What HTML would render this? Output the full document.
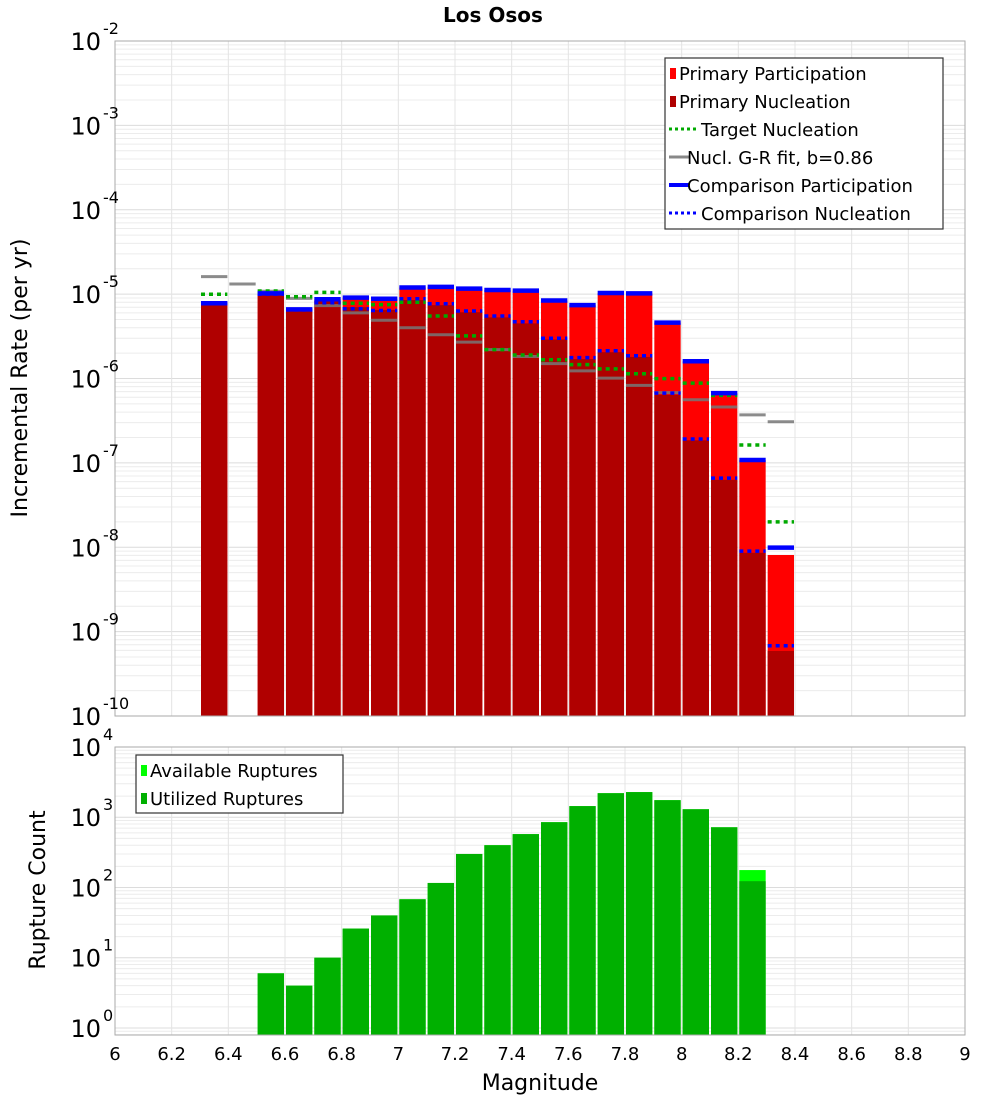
<!DOCTYPE html>
<html><head><meta charset="utf-8"><style>
html,body{margin:0;padding:0;background:#fff;}
svg{display:block;font-family:"DejaVu Sans","Liberation Sans",sans-serif;}
</style></head><body>
<svg id="chart" width="1000" height="1100" viewBox="0 0 1000 1100">
<text x="493" y="22" text-anchor="middle" font-size="20" font-weight="bold">Los Osos</text>
<g id="topPlot"></g>
<g id="botPlot"></g>
<text transform="translate(27,378) rotate(-90)" text-anchor="middle" font-size="22">Incremental Rate (per yr)</text>
<text transform="translate(45,890) rotate(-90)" text-anchor="middle" font-size="22">Rupture Count</text>
<text x="540" y="1090" text-anchor="middle" font-size="22">Magnitude</text>
</svg>
<script>
const binCenters=[6.35,6.45,6.55,6.65,6.75,6.85,6.95,7.05,7.15,7.25,7.35,7.45,7.55,7.65,7.75,7.85,7.95,8.05,8.15,8.25,8.35];
const primaryParticipation=[7.8e-6,null,1.02e-5,6.6e-6,8.7e-6,9.1e-6,8.8e-6,1.2e-5,1.22e-5,1.16e-5,1.12e-5,1.10e-5,8.4e-6,7.4e-6,1.03e-5,1.02e-5,4.6e-6,1.6e-6,6.7e-7,1.08e-7,8.1e-9];
const primaryNucleation=[7.8e-6,null,1.02e-5,6.6e-6,8.2e-6,7.0e-6,6.5e-6,8.5e-6,7.4e-6,6.1e-6,5.3e-6,4.5e-6,2.9e-6,1.7e-6,2.05e-6,1.8e-6,6.4e-7,1.85e-7,6.3e-8,8.6e-9,5.9e-10];
const targetNucleation=[9.95e-6,null,1.09e-5,9.3e-6,1.05e-5,7.8e-6,7.5e-6,8.0e-6,5.5e-6,3.2e-6,2.2e-6,1.9e-6,1.67e-6,1.46e-6,1.30e-6,1.14e-6,9.95e-7,8.8e-7,6.3e-7,1.63e-7,2.0e-8];
const grFit=[1.61e-5,1.32e-5,1.08e-5,8.9e-6,7.3e-6,6.0e-6,4.9e-6,4.0e-6,3.3e-6,2.7e-6,2.2e-6,1.82e-6,1.50e-6,1.23e-6,1.01e-6,8.3e-7,6.8e-7,5.6e-7,4.6e-7,3.7e-7,3.07e-7];
const compParticipation=[7.8e-6,null,1.02e-5,6.6e-6,8.7e-6,9.1e-6,8.8e-6,1.2e-5,1.22e-5,1.16e-5,1.12e-5,1.10e-5,8.4e-6,7.4e-6,1.03e-5,1.02e-5,4.6e-6,1.6e-6,6.7e-7,1.08e-7,9.9e-9];
const compNucleation=[7.8e-6,null,1.0e-5,6.5e-6,7.9e-6,6.7e-6,6.4e-6,8.8e-6,7.7e-6,6.3e-6,5.5e-6,4.7e-6,3.0e-6,1.77e-6,2.13e-6,1.86e-6,6.7e-7,1.92e-7,6.6e-8,9.0e-9,6.8e-10];
const countBins=[6.55,6.65,6.75,6.85,6.95,7.05,7.15,7.25,7.35,7.45,7.55,7.65,7.75,7.85,7.95,8.05,8.15,8.25];
const availableRuptures=[6,4,10,26,40,68,116,300,400,575,850,1440,2200,2280,1750,1300,720,177];
const utilizedRuptures=[6,4,10,26,40,68,116,300,400,575,850,1440,2200,2280,1750,1300,720,123];
const xTicks=[6,6.2,6.4,6.6,6.8,7,7.2,7.4,7.6,7.8,8,8.2,8.4,8.6,8.8,9];
const topExps=[-2,-3,-4,-5,-6,-7,-8,-9,-10];
const botExps=[4,3,2,1,0];

const NS="http://www.w3.org/2000/svg";
const L=115,R=965;
const X=m=>L+(m-6)/3*(R-L);
const TT=41,TB=716, BT=747,BB=1035;
const Yt=v=>TT+(-2-Math.log10(v))*(TB-TT)/8;
const Yb=v=>BT+(4-Math.log10(v))*(BB-BT)/4.1;
function mk(p,tag,a){const e=document.createElementNS(NS,tag);for(const k in a)e.setAttribute(k,a[k]);p.appendChild(e);return e;}
const topG=document.getElementById('topPlot'),botG=document.getElementById('botPlot');

function grid(g,y0,y1,yfun,emin,emax,name){
  const gg=mk(g,'g',{});
  
  
  for(let e=emin;e<emax;e++)for(let k=1;k<10;k++){const y=yfun(k*Math.pow(10,e));if(y<y0-0.5||y>y1+0.5)continue;
    mk(gg,'line',{x1:L,x2:R,y1:y,y2:y,stroke:k==1?'#dcdcdc':'#ececec','stroke-width':1});}
  xTicks.forEach(t=>mk(gg,'line',{x1:X(t),x2:X(t),y1:y0,y2:y1,stroke:'#e4e4e4','stroke-width':1}));
}
grid(topG,TT,TB,Yt,-10,-1,'rate');
grid(botG,BT,BB,Yb,-1,4,'count');

const bw=(X(6.1)-X(6))-2;
binCenters.forEach((m,i)=>{
  if(primaryParticipation[i]!=null){
    const y=Yt(primaryParticipation[i]);
    const b=mk(topG,'rect',{x:X(m)-bw/2,y:y,width:bw,height:TB-y,fill:'#ff0000'});
    
    
  }
  if(primaryNucleation[i]!=null){
    const y=Yt(primaryNucleation[i]);
    const b=mk(topG,'rect',{x:X(m)-bw/2,y:y,width:bw,height:TB-y,fill:'#b00000'});
    
    
  }
});
function seg(arr,name,color,w,dash,op){
  binCenters.forEach((m,i)=>{if(arr[i]==null)return;const y=Yt(arr[i]);
    const a={x1:X(m)-bw/2,x2:X(m)+bw/2,y1:y,y2:y,stroke:color,'stroke-width':w,opacity:op};
    if(dash)a['stroke-dasharray']=dash;
    const l=mk(topG,'line',a);
    
    });
}
seg(grFit,'gr-fit-line','#777',3,null,0.85);
seg(targetNucleation,'target-nucleation-line','#00aa00',3.5,'4,4',1);
seg(compParticipation,'comparison-participation-line','#0000ff',4.5,null,1);
seg(compNucleation,'comparison-nucleation-line','#0000ff',3.5,'4,4',1);
mk(topG,'rect',{x:L,y:TT,width:R-L,height:TB-TT,fill:'none',stroke:'#aaa','stroke-width':1});

countBins.forEach((m,i)=>{
  let y=Yb(availableRuptures[i]);
  const a=mk(botG,'rect',{x:X(m)-bw/2,y:y,width:bw,height:BB-y,fill:'#00ff00'});
  
  
  y=Yb(utilizedRuptures[i]);
  const u=mk(botG,'rect',{x:X(m)-bw/2,y:y,width:bw,height:BB-y,fill:'#00b000'});
  
  
});
mk(botG,'rect',{x:L,y:BT,width:R-L,height:BB-BT,fill:'none',stroke:'#aaa','stroke-width':1});

function ylab(g,e,y,name){
  const t=mk(g,'text',{x:101,y:y+9,'text-anchor':'end','font-size':24});
  
  
  t.textContent='10';
  const s=mk(g,'text',{x:103,y:y-7,'font-size':16});
  
  
  s.textContent=String(e);
}
topExps.forEach(e=>ylab(topG,e,Yt(Math.pow(10,e)),'y-tick-rate'));
botExps.forEach(e=>ylab(botG,e,Yb(Math.pow(10,e)),'y-tick-count'));
xTicks.forEach(t=>{const tx=mk(botG,'text',{x:X(t),y:1060,'text-anchor':'middle','font-size':18});
  
  
  tx.textContent=String(t);});

function legend(g,x,y,w,h,items,name){
  const lg=mk(g,'g',{});
  
  
  mk(lg,'rect',{x:x,y:y,width:w,height:h,fill:'#fff',stroke:'#333','stroke-width':1.2});
  items.forEach((it,i)=>{const cy=y+15+i*28;
    if(it.t=='box')mk(lg,'rect',{x:x+5,y:cy-5,width:6,height:11,fill:it.c});
    else{const a={x1:x+4,x2:x+(it.d?34:24),y1:cy,y2:cy,stroke:it.c,'stroke-width':it.w};if(it.d)a['stroke-dasharray']='3,3';mk(lg,'line',a);}
    const tx=mk(lg,'text',{x:x+(it.t=='box'?14:(it.d?36:22)),y:cy+7,'font-size':18});
    
    
    tx.textContent=it.s;});
}
legend(topG,665,58,278,171,[
 {t:'box',c:'#ff0000',s:'Primary Participation'},
 {t:'box',c:'#b00000',s:'Primary Nucleation'},
 {t:'line',c:'#00aa00',w:3,d:1,s:'Target Nucleation'},
 {t:'line',c:'#888',w:3,s:'Nucl. G-R fit, b=0.86'},
 {t:'line',c:'#0000ff',w:4,s:'Comparison Participation'},
 {t:'line',c:'#0000ff',w:3,d:1,s:'Comparison Nucleation'}],'rate-legend');
legend(botG,136,755,207,58,[
 {t:'box',c:'#00ff00',s:'Available Ruptures'},
 {t:'box',c:'#00b000',s:'Utilized Ruptures'}],'count-legend');
</script>
</body></html>
